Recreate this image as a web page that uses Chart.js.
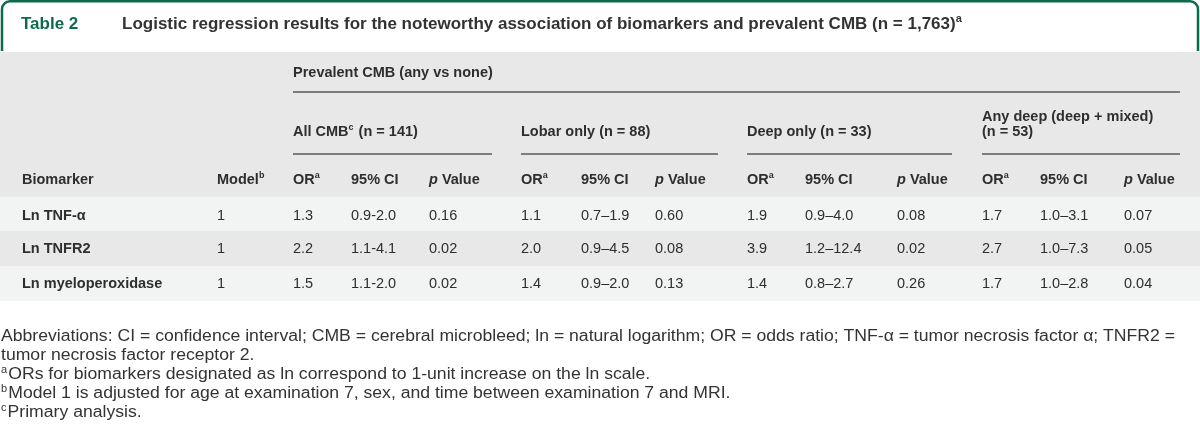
<!DOCTYPE html>
<html><head><meta charset="utf-8">
<script src="https://cdn.jsdelivr.net/npm/chart.js@4.4.1/dist/chart.umd.min.js"></script>
<style>html,body{margin:0;padding:0;background:#fff;}#wrap{width:1200px;height:427px;position:relative;}</style>
</head><body><div id="wrap"><canvas id="c" width="1200" height="427"></canvas></div>
<script>
// ---------- DATA ----------
const tableNumber = 'Table 2';
const titleText = 'Logistic regression results for the noteworthy association of biomarkers and prevalent CMB (n = 1,763)^a';
const spanHeader = 'Prevalent CMB (any vs none)';
const groupLabels = [['All CMB^c (n = 141)'], ['Lobar only (n = 88)'], ['Deep only (n = 33)'], ['Any deep (deep + mixed)', '(n = 53)']];
const columnHeaders = ['Biomarker', 'Model^b', 'OR^a', '95% CI', '*p* Value', 'OR^a', '95% CI', '*p* Value', 'OR^a', '95% CI', '*p* Value', 'OR^a', '95% CI', '*p* Value'];
const biomarkers = ['Ln TNF-α', 'Ln TNFR2', 'Ln myeloperoxidase'];
const models = ['1', '1', '1'];
const allOR = ['1.3', '2.2', '1.5'];
const allCI = ['0.9-2.0', '1.1-4.1', '1.1-2.0'];
const allP = ['0.16', '0.02', '0.02'];
const lobarOR = ['1.1', '2.0', '1.4'];
const lobarCI = ['0.7–1.9', '0.9–4.5', '0.9–2.0'];
const lobarP = ['0.60', '0.08', '0.13'];
const deepOR = ['1.9', '3.9', '1.4'];
const deepCI = ['0.9–4.0', '1.2–12.4', '0.8–2.7'];
const deepP = ['0.08', '0.02', '0.26'];
const anyDeepOR = ['1.7', '2.7', '1.7'];
const anyDeepCI = ['1.0–3.1', '1.0–7.3', '1.0–2.8'];
const anyDeepP = ['0.07', '0.05', '0.04'];
const footnotes = [
  'Abbreviations: CI = confidence interval; CMB = cerebral microbleed; ln = natural logarithm; OR = odds ratio; TNF-α = tumor necrosis factor α; TNFR2 =',
  'tumor necrosis factor receptor 2.',
  '^aORs for biomarkers designated as ln correspond to 1-unit increase on the ln scale.',
  '^bModel 1 is adjusted for age at examination 7, sex, and time between examination 7 and MRI.',
  '^cPrimary analysis.'
];

// ---------- LAYOUT ----------
const columns = [biomarkers, models, allOR, allCI, allP, lobarOR, lobarCI, lobarP, deepOR, deepCI, deepP, anyDeepOR, anyDeepCI, anyDeepP];
const colX = [22, 217, 293, 351, 429, 521, 581, 655, 747, 805, 897, 982, 1040, 1124];
const groupSpan = [[293, 492], [521, 718], [747, 952], [982, 1180]];
const rowY = [216, 249, 284];
const bands = [[52, 197, '#e8e8e8'], [197, 231, '#f2f3f3'], [231, 266, '#e8e8e8'], [266, 301, '#f2f3f3']];
const FONT = '"Liberation Sans", Arial, sans-serif';
const TXT = '#2e2e2e';

function drawRich(ctx, str, x, y, size, weight, color, sx) {
  sx = sx || 1;
  ctx.save();
  ctx.translate(x, y);
  ctx.scale(sx, 1);
  ctx.fillStyle = color;
  ctx.textBaseline = 'middle';
  ctx.textAlign = 'left';
  let i = 0, cx = 0, italic = false;
  while (i < str.length) {
    const ch = str[i];
    if (ch === '*') { italic = !italic; i++; continue; }
    if (ch === '^') {
      const s = str[i + 1];
      ctx.font = `${weight} ${Math.round(size * 0.62)}px ${FONT}`;
      ctx.fillText(s, cx, -size * 0.32);
      cx += ctx.measureText(s).width + 1;
      i += 2; continue;
    }
    let j = i;
    while (j < str.length && str[j] !== '*' && str[j] !== '^') j++;
    const seg = str.slice(i, j);
    ctx.font = `${italic ? 'italic ' : ''}${weight} ${size}px ${FONT}`;
    ctx.fillText(seg, cx, 0);
    cx += ctx.measureText(seg).width;
    i = j;
  }
  ctx.restore();
  return cx * sx;
}

const tablePlugin = {
  id: 'tablePlugin',
  beforeDatasetsDraw(chart) {
    const ctx = chart.ctx, xs = chart.scales.x, ys = chart.scales.y;
    const X = v => xs.getPixelForValue(v), Y = v => ys.getPixelForValue(v);
    ctx.save();
    ctx.fillStyle = '#fff';
    ctx.fillRect(0, 0, chart.width, chart.height);
    bands.forEach(b => { ctx.fillStyle = b[2]; ctx.fillRect(X(0), Y(b[0]), X(1200) - X(0), Y(b[1]) - Y(b[0])); });
    ctx.strokeStyle = '#0d6b4b'; ctx.lineWidth = 2.5;
    ctx.beginPath();
    ctx.moveTo(X(2), Y(51)); ctx.lineTo(X(2), Y(10));
    ctx.arcTo(X(2), Y(1.3), X(11), Y(1.3), 8);
    ctx.lineTo(X(1189), Y(1.3));
    ctx.arcTo(X(1198), Y(1.3), X(1198), Y(10), 8);
    ctx.lineTo(X(1198), Y(51));
    ctx.stroke();
    ctx.strokeStyle = '#5a5a5a'; ctx.lineWidth = 1.5;
    ctx.beginPath(); ctx.moveTo(X(293), Y(92)); ctx.lineTo(X(1180), Y(92)); ctx.stroke();
    groupSpan.forEach(g => { ctx.beginPath(); ctx.moveTo(X(g[0]), Y(154)); ctx.lineTo(X(g[1]), Y(154)); ctx.stroke(); });
    ctx.restore();
  },
  afterDatasetsDraw(chart) {
    const ctx = chart.ctx, xs = chart.scales.x, ys = chart.scales.y;
    const X = v => xs.getPixelForValue(v), Y = v => ys.getPixelForValue(v);
    ctx.save();
    drawRich(ctx, tableNumber, X(21), Y(24), 17, 'bold', '#0d6b4b');
    drawRich(ctx, titleText, X(122), Y(24), 17, 'bold', '#333');
    drawRich(ctx, spanHeader, X(293), Y(73), 14.5, 'bold', TXT);
    groupLabels.forEach((lines, gi) => {
      const y0 = lines.length > 1 ? 117 : 132;
      lines.forEach((l, li) => drawRich(ctx, l, X(groupSpan[gi][0]), Y(y0 + li * 15), 14.5, 'bold', TXT));
    });
    columnHeaders.forEach((h, ci) => drawRich(ctx, h, X(colX[ci]), Y(180), 14.5, 'bold', TXT));
    chart.data.datasets.forEach((ds, di) => {
      const meta = chart.getDatasetMeta(di);
      meta.data.forEach((el, ri) => {
        drawRich(ctx, ds.data[ri].t, el.x, el.y, 14.5, di === 0 ? 'bold' : 'normal', TXT);
      });
    });
    // footnotes: fit first line to the text block width
    ctx.font = `normal 16px ${FONT}`;
    const w0 = ctx.measureText(footnotes[0]).width;
    const sx = (X(1175) - X(1)) / w0;
    footnotes.forEach((f, i) => drawRich(ctx, f, X(1), Y(337 + i * 19), 16, 'normal', '#333', sx));
    ctx.restore();
  }
};

const datasets = columns.map((col, ci) => ({
  label: columnHeaders[ci],
  data: col.map((v, ri) => ({ x: colX[ci], y: rowY[ri], t: v })),
  pointRadius: 0, pointHoverRadius: 0, showLine: false
}));

new Chart(document.getElementById('c'), {
  type: 'scatter',
  data: { datasets },
  options: {
    responsive: false, animation: false, devicePixelRatio: 1,
    layout: { padding: 0 },
    plugins: { legend: { display: false }, tooltip: { enabled: false }, title: { display: false } },
    events: [],
    scales: {
      x: { type: 'linear', min: 0, max: 1200, display: false },
      y: { type: 'linear', min: 0, max: 427, reverse: true, display: false }
    }
  },
  plugins: [tablePlugin]
});
</script></body></html>
